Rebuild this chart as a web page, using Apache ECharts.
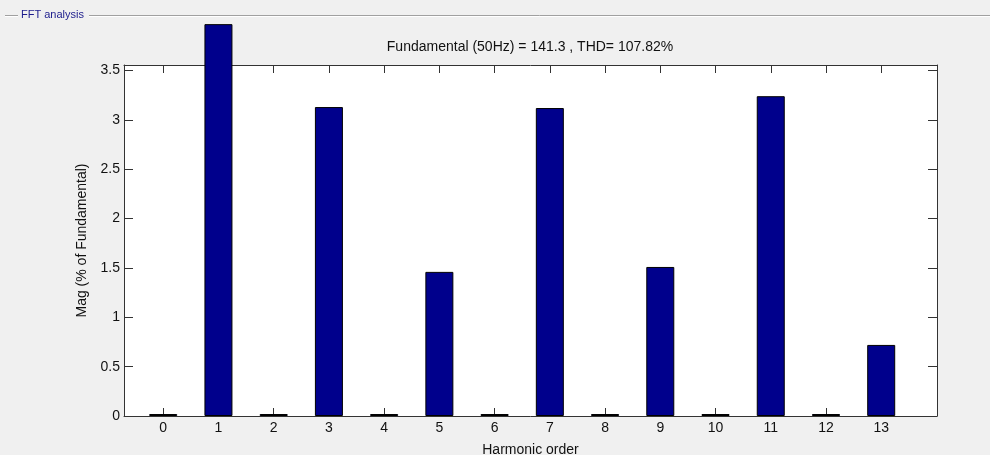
<!DOCTYPE html>
<html>
<head>
<meta charset="utf-8">
<script src="https://cdn.jsdelivr.net/npm/echarts@6/dist/echarts.min.js"></script>
<style>
  html, body { margin: 0; padding: 0; background: #f0f0f0; }
  #main { width: 990px; height: 455px; }
</style>
</head>
<body>
<div id="main"></div>
<script>
const harmonics = [0, 1, 2, 3, 4, 5, 6, 7, 8, 9, 10, 11, 12, 13];
const magnitudes = [0.02, 3.97, 0.02, 3.13, 0.02, 1.46, 0.02, 3.12, 0.02, 1.51, 0.02, 3.24, 0.02, 0.72];
const yTicks = [0, 0.5, 1, 1.5, 2, 2.5, 3, 3.5];

const chart = echarts.init(document.getElementById('main'));
const font = "'Liberation Sans', Arial, sans-serif";
const axisColor = '#333';

const xBase = {
  type: 'value',
  min: -0.71,
  max: 14.01,
  splitLine: { show: false },
  axisLine: { onZero: false, lineStyle: { color: axisColor, width: 1 } },
  axisTick: { inside: true, length: 8, lineStyle: { color: axisColor }, customValues: harmonics },
  axisLabel: { customValues: harmonics, margin: 5, color: '#111', fontSize: 14, fontFamily: font }
};
const yBase = {
  type: 'value',
  min: 0,
  max: 3.556,
  splitLine: { show: false },
  axisLine: { onZero: false, lineStyle: { color: axisColor, width: 1 } },
  axisTick: { inside: true, length: 9, lineStyle: { color: axisColor }, customValues: yTicks },
  axisLabel: { customValues: yTicks, margin: 4, color: '#111', fontSize: 14, fontFamily: font }
};

chart.setOption({
  backgroundColor: '#f0f0f0',
  animation: false,
  title: {
    text: 'Fundamental (50Hz) = 141.3 , THD= 107.82%',
    left: 530,
    textAlign: 'center',
    top: 40,
    padding: 0,
    textStyle: { fontSize: 14, fontWeight: 'normal', color: '#111', fontFamily: font }
  },
  grid: {
    left: 124, top: 65, width: 813, height: 351,
    outerBoundsMode: 'none',
    containLabel: false,
    show: true, backgroundColor: '#fff', borderWidth: 0
  },
  xAxis: [
    Object.assign({}, xBase, {
      position: 'bottom',
      name: 'Harmonic order',
      nameLocation: 'middle',
      nameGap: 27,
      nameTextStyle: { fontSize: 14, color: '#111', fontFamily: font }
    }),
    Object.assign({}, xBase, {
      position: 'top',
      axisLabel: { show: false }
    })
  ],
  yAxis: [
    Object.assign({}, yBase, {
      position: 'left',
      name: 'Mag (% of Fundamental)',
      nameLocation: 'middle',
      nameGap: 26,
      nameTextStyle: { fontSize: 14, color: '#111', fontFamily: font }
    }),
    Object.assign({}, yBase, {
      position: 'right',
      axisLabel: { show: false }
    })
  ],
  series: [{
    type: 'bar',
    clip: false,
    barWidth: 28,
    data: harmonics.map((h, i) => [h, magnitudes[i]]),
    itemStyle: { color: '#00008c', borderColor: '#000', borderWidth: 1 }
  }],
  graphic: [
    { type: 'line', shape: { x1: 5, y1: 15.5, x2: 18, y2: 15.5 }, style: { stroke: '#a0a0a0', lineWidth: 1 } },
    { type: 'line', shape: { x1: 89, y1: 15.5, x2: 990, y2: 15.5 }, style: { stroke: '#a0a0a0', lineWidth: 1 } },
    { type: 'line', shape: { x1: 5, y1: 16.5, x2: 18, y2: 16.5 }, style: { stroke: '#ffffff', lineWidth: 1 } },
    { type: 'line', shape: { x1: 89, y1: 16.5, x2: 990, y2: 16.5 }, style: { stroke: '#ffffff', lineWidth: 1 } },
    {
      type: 'text', left: 21, top: 9,
      style: { text: 'FFT analysis', fill: '#1c1c8c', fontSize: 11, fontFamily: font }
    }
  ]
});
</script>
</body>
</html>
